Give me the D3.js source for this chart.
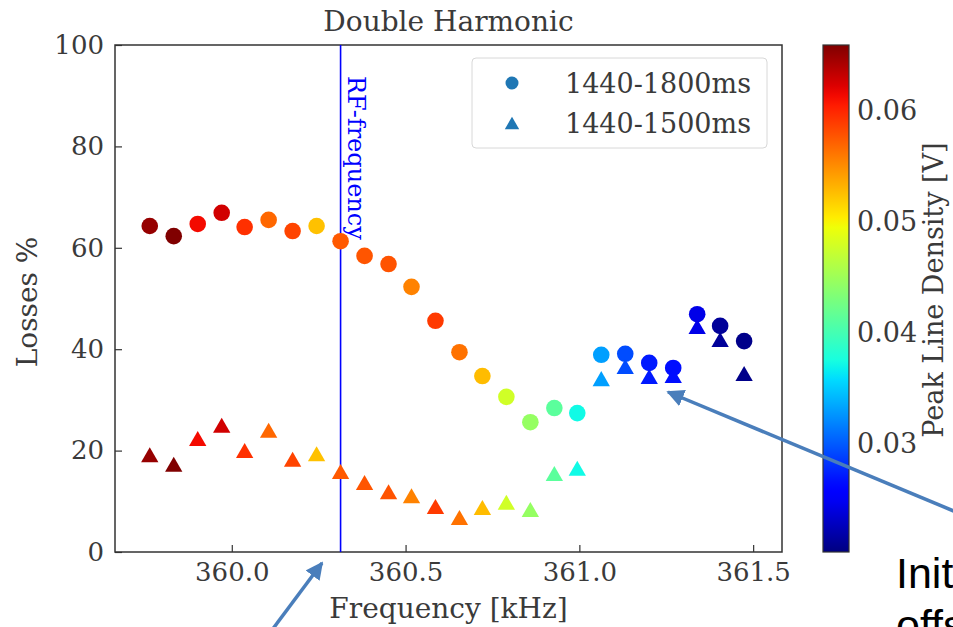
<!DOCTYPE html>
<html><head><meta charset="utf-8">
<script src="https://cdn.jsdelivr.net/npm/d3@7"></script>
<style>body{margin:0;background:#fff}svg{display:block}</style>
</head><body>
<script>
// ---- data ----
const freq = [359.764, 359.833, 359.902, 359.971, 360.037, 360.106, 360.175, 360.244, 360.313, 360.382, 360.451, 360.517, 360.586, 360.655, 360.721, 360.790, 360.859, 360.928, 360.994, 361.063, 361.132, 361.201, 361.270, 361.339, 361.405, 361.474];
const lossLong = [64.3, 62.3, 64.7, 66.9, 64.1, 65.5, 63.3, 64.3, 61.3, 58.4, 56.8, 52.3, 45.6, 39.4, 34.7, 30.6, 25.6, 28.4, 27.4, 38.9, 39.1, 37.3, 36.3, 46.9, 44.6, 41.6];
const lossShort = [18.9, 17.0, 22.1, 24.7, 19.7, 23.7, 18.0, 19.1, 15.6, 13.4, 11.6, 10.8, 8.7, 6.5, 8.5, 9.5, 8.1, 15.2, 16.2, 33.9, 36.3, 34.3, 34.5, 44.2, 41.6, 34.9];
const peakDensity = [0.065, 0.066, 0.0613, 0.0627, 0.0595, 0.0568, 0.0585, 0.0525, 0.0575, 0.0577, 0.0578, 0.0555, 0.059, 0.0563, 0.0527, 0.0478, 0.0445, 0.0413, 0.0372, 0.0331, 0.0294, 0.0271, 0.0266, 0.0244, 0.0213, 0.0207];
const seriesNames = ["1440-1800ms", "1440-1500ms"];
const xTicks = [360.0, 360.5, 361.0, 361.5];
const yTicks = [0, 20, 40, 60, 80, 100];
const cTicks = [0.03, 0.04, 0.05, 0.06];
const rfFreq = 360.313;

// ---- jet colormap ----
function seg(pts, t){
  for(let i=1;i<pts.length;i++){
    if(t<=pts[i][0]){const a=pts[i-1],b=pts[i];return a[1]+(b[1]-a[1])*(t-a[0])/(b[0]-a[0]);}
  }
  return pts[pts.length-1][1];
}
const R=[[0,0],[0.35,0],[0.66,1],[0.89,1],[1,0.5]];
const G=[[0,0],[0.125,0],[0.375,1],[0.64,1],[0.91,0],[1,0]];
const B=[[0,0.5],[0.11,1],[0.34,1],[0.65,0],[1,0]];
function jet(t){t=Math.max(0,Math.min(1,t));return d3.rgb(255*seg(R,t),255*seg(G,t),255*seg(B,t)).toString();}

const W=953,H=627;
const svg=d3.select("body").append("svg").attr("width",W).attr("height",H);
const font="DejaVu Serif";
const txt="#3a3a3a";
const m={l:115,r:782,t:45,b:552};
const x=d3.scaleLinear().domain([359.664,361.583]).range([m.l,m.r]);
const y=d3.scaleLinear().domain([0,100]).range([m.b,m.t]);
const cmin=0.0203,cmax=0.0659;
const cnorm=d3.scaleLinear().domain([cmin,cmax]).range([0,1]);
const color=v=>jet(cnorm(v));

// axes
const xAxis=d3.axisBottom(x).tickValues(xTicks).tickFormat(d3.format(".1f")).tickSizeInner(-7).tickSizeOuter(0).tickPadding(11);
const yAxis=d3.axisLeft(y).tickValues(yTicks).tickFormat(d3.format("d")).tickSizeInner(-7).tickSizeOuter(0).tickPadding(11);
const gx=svg.append("g").attr("transform",`translate(0,${m.b})`).call(xAxis);
const gy=svg.append("g").attr("transform",`translate(${m.l},0)`).call(yAxis);
[gx,gy].forEach(g=>{
  g.select(".domain").remove();
  g.selectAll(".tick line").attr("stroke","#333").attr("stroke-width",1.2);
  g.selectAll(".tick text").attr("font-family",font).attr("font-size",26).attr("fill",txt);
});
// frame
svg.append("rect").attr("x",m.l).attr("y",m.t).attr("width",m.r-m.l).attr("height",m.b-m.t)
  .attr("fill","none").attr("stroke","#333").attr("stroke-width",1.5);

// RF line
svg.append("line").attr("x1",x(rfFreq)).attr("x2",x(rfFreq)).attr("y1",m.t).attr("y2",m.b)
  .attr("stroke","#0000ff").attr("stroke-width",1.6);
svg.append("text").attr("transform",`translate(${x(rfFreq)+7},76) rotate(90)`)
  .attr("font-family",font).attr("font-size",24).attr("fill","#0000ff").text("RF-frequency");

// markers
const sym=d3.symbol().type(d3.symbolTriangle).size(130);
const pts=freq.map((f,i)=>({f,a:lossLong[i],b:lossShort[i],c:peakDensity[i]}));
svg.append("g").selectAll("circle").data(pts).join("circle")
  .attr("cx",d=>x(d.f)).attr("cy",d=>y(d.a)).attr("r",8.3).attr("fill",d=>color(d.c));
svg.append("g").selectAll("path").data(pts).join("path")
  .attr("d",sym).attr("transform",d=>`translate(${x(d.f)},${y(d.b)+1})`).attr("fill",d=>color(d.c));

// title & labels
svg.append("text").attr("x",(m.l+m.r)/2).attr("y",31).attr("text-anchor","middle")
  .attr("font-family",font).attr("font-size",28).attr("fill",txt).text("Double Harmonic");
svg.append("text").attr("x",(m.l+m.r)/2).attr("y",618).attr("text-anchor","middle")
  .attr("font-family",font).attr("font-size",28).attr("fill",txt).text("Frequency [kHz]");
svg.append("text").attr("transform",`translate(37,302) rotate(-90)`).attr("text-anchor","middle")
  .attr("font-family",font).attr("font-size",28).attr("fill",txt).text("Losses %");

// legend
const lg=svg.append("g");
lg.append("rect").attr("x",472).attr("y",58).attr("width",295).attr("height",90).attr("rx",4)
  .attr("fill","#fff").attr("stroke","#d8d8d8").attr("stroke-width",1);
lg.append("circle").attr("cx",512).attr("cy",83).attr("r",6.5).attr("fill","#1f77b4");
lg.append("path").attr("d",d3.symbol().type(d3.symbolTriangle).size(90)).attr("transform","translate(512,125)").attr("fill","#1f77b4");
lg.selectAll("text").data(seriesNames).join("text").attr("x",565).attr("y",(d,i)=>93+i*40)
  .attr("font-family",font).attr("font-size",27).attr("fill",txt).text(d=>d);

// colorbar
const cb={x:823,w:26,t:45,b:552};
const cy=d3.scaleLinear().domain([cmin,cmax]).range([cb.b,cb.t]);
const defs=svg.append("defs");
const grad=defs.append("linearGradient").attr("id","jetg").attr("x1",0).attr("y1",1).attr("x2",0).attr("y2",0);
d3.range(0,1.0001,0.02).forEach(t=>grad.append("stop").attr("offset",t).attr("stop-color",jet(t)));
svg.append("rect").attr("x",cb.x).attr("y",cb.t).attr("width",cb.w).attr("height",cb.b-cb.t)
  .attr("fill","url(#jetg)").attr("stroke","#333").attr("stroke-width",1.2);
const cAxis=d3.axisRight(cy).tickValues(cTicks).tickFormat(d3.format(".2f")).tickSize(0).tickPadding(8);
const gc=svg.append("g").attr("transform",`translate(${cb.x+cb.w},0)`).call(cAxis);
gc.select(".domain").remove();
gc.selectAll(".tick text").attr("font-family",font).attr("font-size",27).attr("fill",txt);
svg.append("text").attr("transform",`translate(943,290) rotate(-90)`).attr("text-anchor","middle")
  .attr("font-family",font).attr("font-size",27).attr("fill",txt).text("Peak Line Density [V]");

// annotation arrows
const ac="#4a7ebb";
defs.append("marker").attr("id","ah").attr("viewBox","0 0 10 10").attr("refX",9).attr("refY",5)
  .attr("markerWidth",5).attr("markerHeight",5).attr("orient","auto")
  .append("path").attr("d","M0,0 L10,5 L0,10 z").attr("fill",ac);
svg.append("line").attr("x1",272).attr("y1",630).attr("x2",322).attr("y2",563)
  .attr("stroke",ac).attr("stroke-width",3.5).attr("marker-end","url(#ah)");
svg.append("line").attr("x1",956).attr("y1",512).attr("x2",668).attr("y2",392)
  .attr("stroke",ac).attr("stroke-width",3.5).attr("marker-end","url(#ah)");
svg.append("text").attr("x",896).attr("y",588).attr("font-family","Liberation Sans").attr("font-size",43).attr("fill","#000").text("Init");
svg.append("text").attr("x",896).attr("y",640).attr("font-family","Liberation Sans").attr("font-size",43).attr("fill","#000").text("offs");
</script>
</body></html>
